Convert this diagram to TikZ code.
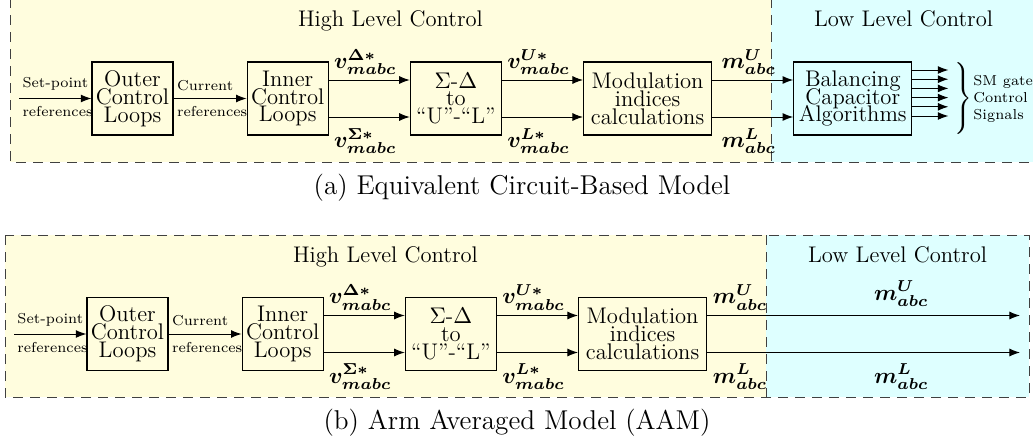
\RequirePackage{fix-cm}
\documentclass[tikz,border=0pt]{standalone}
\usepackage{amsmath}
\usepackage{bm}
\usepackage{xcolor}
\usetikzlibrary{arrows.meta, positioning, backgrounds}
\newcommand{\boxfont}{\fontsize{11.3}{8.9}\selectfont\lineskiplimit=-20pt\relax}
\newcommand{\sigfont}{\fontsize{11.3}{13}\selectfont}
\newcommand{\reffont}{\fontsize{7.2}{8.5}\selectfont\lineskiplimit=-20pt\relax}
\newcommand{\capfont}{\fontsize{13.6}{15}\selectfont}
\tikzset{
	ctrlblock/.style={rectangle, draw=black, line width=0.6pt, align=center,
		minimum height=36.5pt, inner sep=0pt, font=\boxfont},
	arrow/.style={-{Latex[length=5.3pt,width=4pt]}, line width=0.5pt},
	upsig/.style={font=\sigfont, above, inner sep=2.5pt, pos=0.45},
	dnsig/.style={font=\sigfont, below, inner sep=5.5pt, pos=0.45},
	reflabel/.style={font=\reffont, inner xsep=1.5pt, inner ysep=3.8pt},
	levellabel/.style={font=\boxfont, anchor=base},
	captext/.style={font=\capfont, anchor=base},
	levelframe/.style={draw=black!75, dash pattern=on 5pt off 3.5pt, line width=0.5pt},
}
\definecolor{highfill}{RGB}{255,253,222}
\definecolor{lowfill}{RGB}{222,255,255}

\begin{document}
\begin{tikzpicture}
	\useasboundingbox (0,0) rectangle (516.5pt,-222.5pt);
	% (a) Equivalent circuit-based model
	\coordinate (a-in) at (9.5pt,-49.25pt);
	\node[ctrlblock, minimum width=40.5pt] (a-outer) at (66.25pt,-49.25pt) {Outer\\Control\\Loops};
	\node[ctrlblock, minimum width=40.5pt, right=36.5pt of a-outer] (a-inner) {Inner\\Control\\Loops};
	\node[ctrlblock, minimum width=45.5pt, right=40.5pt of a-inner] (a-sig) {$\Sigma$-$\Delta$\\to\\``U''-``L''};
	\node[ctrlblock, minimum width=64pt, right=40.5pt of a-sig] (a-mod) {Modulation\\indices\\calculations};
	\node[ctrlblock, minimum width=59pt, right=40.5pt of a-mod] (a-bal) {Balancing\\Capacitor\\Algorithms};
	\node[right=19.8pt of a-bal, inner sep=0pt, font=\fontsize{10}{12}\selectfont] (a-brace)
		{$\delimiterfactor=1000\delimitershortfall=0pt\left.\vrule height 20pt depth 15pt width 0pt\right\}$};
	\node[right=0pt of a-brace, inner sep=0pt, align=left, font=\reffont] (a-gates) {SM gate\\Control\\Signals};
	\draw[arrow] (a-in) -- (a-outer) node[reflabel, above right, pos=0] {Set-point} node[reflabel, below right, pos=0] {references};
	\draw[arrow] (a-outer) -- (a-inner) node[reflabel, above right, pos=0] {Current} node[reflabel, below right, pos=0] {references};
	\draw[arrow] ([yshift=9.25pt]a-inner.east) -- ([yshift=9.25pt]a-sig.west) node[upsig] {$\bm{v^{\Delta*}_{mabc}}$};
	\draw[arrow] ([yshift=-9.25pt]a-inner.east) -- ([yshift=-9.25pt]a-sig.west) node[dnsig] {$\bm{v^{\Sigma*}_{mabc}}$};
	\draw[arrow] ([yshift=9.25pt]a-sig.east) -- ([yshift=9.25pt]a-mod.west) node[upsig] {$\bm{v^{U*}_{mabc}}$};
	\draw[arrow] ([yshift=-9.25pt]a-sig.east) -- ([yshift=-9.25pt]a-mod.west) node[dnsig] {$\bm{v^{L*}_{mabc}}$};
	\draw[arrow] ([yshift=9.25pt]a-mod.east) -- ([yshift=9.25pt]a-bal.west) node[upsig] {$\bm{m^{U}_{abc}}$};
	\draw[arrow] ([yshift=-9.25pt]a-mod.east) -- ([yshift=-9.25pt]a-bal.west) node[dnsig] {$\bm{m^{L}_{abc}}$};
	\foreach \k in {0,...,5}
		\draw[arrow] ([yshift={14.25pt-\k*4.6pt}]a-bal.east) -- ++(18pt,0);
	\node[levellabel] (a-high) at (195.25pt,-13.25pt) {High Level Control};
	\node[levellabel] (a-low) at (451.75pt,-13.25pt) {Low Level Control};
	\node[captext] (a-cap) at (261pt,-97pt) {(a) Equivalent Circuit-Based Model};
	\begin{scope}[on background layer]
		\fill[highfill] (5pt,1pt) rectangle (385.5pt,-81pt);
		\fill[lowfill] (385.5pt,1pt) rectangle (518pt,-81pt);
		\draw[levelframe] (5pt,1pt) rectangle (518pt,-81pt);
		\draw[levelframe] (385.5pt,1pt) -- (385.5pt,-81pt);
	\end{scope}
	% (b) Arm averaged model
	\coordinate (b-in) at (7pt,-167pt);
	\node[ctrlblock, minimum width=40.5pt] (b-outer) at (63.75pt,-167pt) {Outer\\Control\\Loops};
	\node[ctrlblock, minimum width=40.5pt, right=36.5pt of b-outer] (b-inner) {Inner\\Control\\Loops};
	\node[ctrlblock, minimum width=45.5pt, right=40.5pt of b-inner] (b-sig) {$\Sigma$-$\Delta$\\to\\``U''-``L''};
	\node[ctrlblock, minimum width=64pt, right=40.5pt of b-sig] (b-mod) {Modulation\\indices\\calculations};
	\coordinate (b-endU) at (510pt,-157.75pt);
	\coordinate (b-endL) at (510pt,-176.25pt);
	\draw[arrow] (b-in) -- (b-outer) node[reflabel, above right, pos=0] {Set-point} node[reflabel, below right, pos=0] {references};
	\draw[arrow] (b-outer) -- (b-inner) node[reflabel, above right, pos=0] {Current} node[reflabel, below right, pos=0] {references};
	\draw[arrow] ([yshift=9.25pt]b-inner.east) -- ([yshift=9.25pt]b-sig.west) node[upsig] {$\bm{v^{\Delta*}_{mabc}}$};
	\draw[arrow] ([yshift=-9.25pt]b-inner.east) -- ([yshift=-9.25pt]b-sig.west) node[dnsig] {$\bm{v^{\Sigma*}_{mabc}}$};
	\draw[arrow] ([yshift=9.25pt]b-sig.east) -- ([yshift=9.25pt]b-mod.west) node[upsig] {$\bm{v^{U*}_{mabc}}$};
	\draw[arrow] ([yshift=-9.25pt]b-sig.east) -- ([yshift=-9.25pt]b-mod.west) node[dnsig] {$\bm{v^{L*}_{mabc}}$};
	\draw[arrow] ([yshift=9.25pt]b-mod.east) -- (b-endU)
		node[upsig, pos=0.105] {$\bm{m^{U}_{abc}}$} node[upsig, pos=0.62, inner sep=4.3pt] {$\bm{m^{U}_{abc}}$};
	\draw[arrow] ([yshift=-9.25pt]b-mod.east) -- (b-endL)
		node[dnsig, pos=0.105] {$\bm{m^{L}_{abc}}$} node[dnsig, pos=0.62] {$\bm{m^{L}_{abc}}$};
	\node[levellabel] (b-high) at (192.75pt,-131pt) {High Level Control};
	\node[levellabel] (b-low) at (448.75pt,-131pt) {Low Level Control};
	\node[captext] (b-cap) at (258.5pt,-214.5pt) {(b) Arm Averaged Model (AAM)};
	\begin{scope}[on background layer]
		\fill[highfill] (2.5pt,-117.5pt) rectangle (383pt,-198.5pt);
		\fill[lowfill] (383pt,-117.5pt) rectangle (514.5pt,-198.5pt);
		\draw[levelframe] (2.5pt,-117.5pt) rectangle (514.5pt,-198.5pt);
		\draw[levelframe] (383pt,-117.5pt) -- (383pt,-198.5pt);
	\end{scope}
\end{tikzpicture}
\end{document}
